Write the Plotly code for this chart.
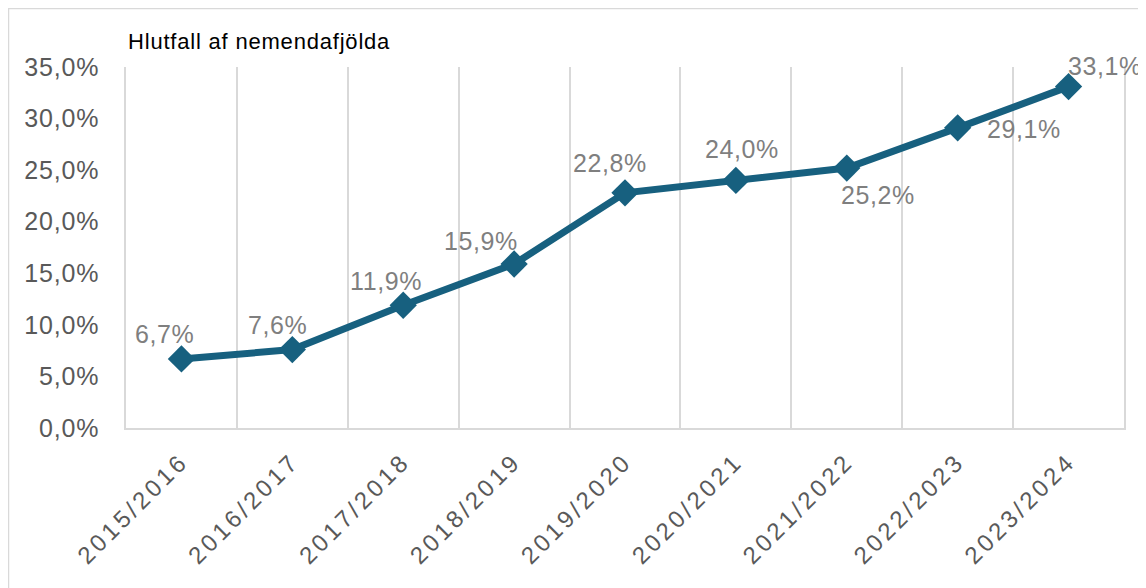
import plotly.graph_objects as go

# --- data ---
years = ["2015/2016", "2016/2017", "2017/2018", "2018/2019", "2019/2020",
         "2020/2021", "2021/2022", "2022/2023", "2023/2024"]
shares = [0.067, 0.076, 0.119, 0.159, 0.228, 0.240, 0.252, 0.291, 0.331]
labels = ["6,7%", "7,6%", "11,9%", "15,9%", "22,8%", "24,0%", "25,2%", "29,1%", "33,1%"]
y_ticks = [0, 0.05, 0.10, 0.15, 0.20, 0.25, 0.30, 0.35]
y_tick_text = ["0,0%", "5,0%", "10,0%", "15,0%", "20,0%", "25,0%", "30,0%", "35,0%"]

# label offsets in pixels (dx, dy) relative to each point
label_offsets = [(-17, 25), (-15, 25), (-17, 24), (-33, 23), (-15, 30),
                 (6, 31), (31, -27), (66, -1), (36, 21)]

LINE_COLOR = "#17607F"
FONT = "Liberation Sans, Arial, sans-serif"


def spaced(txt, px):
    # Excel-like character spacing
    return f'<span style="letter-spacing:{px}px">{txt}</span>'


fig = go.Figure()
fig.add_trace(go.Scatter(
    x=years, y=shares, mode="lines+markers",
    line=dict(color=LINE_COLOR, width=7),
    marker=dict(symbol="diamond", size=21, color=LINE_COLOR),
    hoverinfo="skip", showlegend=False,
))

for yr, val, txt, (dx, dy) in zip(years, shares, labels, label_offsets):
    fig.add_annotation(x=yr, y=val, text=spaced(txt, 0.6), showarrow=False,
                       xshift=dx, yshift=dy,
                       font=dict(family=FONT, size=25, color="#7F7F7F"))

fig.add_annotation(x=0, y=1, xref="paper", yref="paper", xanchor="left", yanchor="bottom",
                   xshift=0, yshift=11, text=spaced("Hlutfall af nemendafjölda", 0.8),
                   showarrow=False, font=dict(family=FONT, size=22, color="#000000"))

# page has an 8px body margin, so the figure sits at (8, 8)
W, H = 1146, 588
L, R, T, B = 118, 30, 59, 168
pw, ph = W - L - R, H - T - B
fig.add_shape(type="rect", xref="paper", yref="paper",
              x0=(0.5 - L) / pw, x1=(W + 5 - L) / pw,
              y0=-(B + 5) / ph, y1=1 + (T - 0.5) / ph,
              line=dict(color="#D9D9D9", width=1.5), fillcolor="rgba(0,0,0,0)", layer="below")

fig.update_layout(
    width=W, height=H,
    margin=dict(l=L, r=R, t=T, b=B),
    plot_bgcolor="white", paper_bgcolor="white",
    font=dict(family=FONT),
)
fig.update_xaxes(
    type="category", tickson="boundaries", showgrid=True, gridcolor="#D9D9D9", gridwidth=1.5,
    showline=True, linecolor="#D9D9D9", linewidth=1.5, ticks="",
    tickvals=years, ticktext=[spaced(y, 3.5) for y in years],
    tickangle=-45, ticklabelstandoff=8,
    tickfont=dict(family=FONT, size=24, color="#595959"),
    range=[-0.5, len(years) - 0.5],
)
fig.update_yaxes(
    range=[0, 0.35], tickvals=y_ticks, ticktext=[spaced(t, 0.8) for t in y_tick_text],
    showgrid=False, zeroline=False, showline=True, mirror=True,
    linecolor="#D9D9D9", linewidth=1.5, ticks="",
    ticklabelstandoff=20,
    tickfont=dict(family=FONT, size=25, color="#595959"),
)

fig.write_html("out.html")
